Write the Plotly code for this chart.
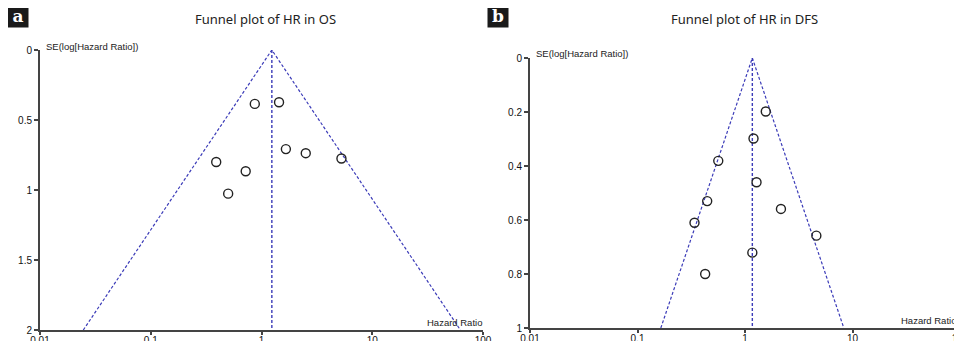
import numpy as np
import plotly.graph_objects as go

# ---------------- data ----------------
# Panel a: Funnel plot of HR in OS
os_hr = [0.87, 1.44, 0.39, 0.72, 0.50, 1.66, 2.51, 5.27]
os_se = [0.385, 0.373, 0.80, 0.866, 1.026, 0.708, 0.737, 0.775]
os_pooled_hr = 1.24
os_se_max = 2.0

# Panel b: Funnel plot of HR in DFS
dfs_hr = [1.56, 1.20, 0.564, 1.28, 0.445, 0.339, 1.17, 0.426, 2.16, 4.61]
dfs_se = [0.198, 0.298, 0.381, 0.46, 0.53, 0.61, 0.721, 0.80, 0.559, 0.658]
dfs_pooled_hr = 1.17
dfs_se_max = 1.0

x_tickvals = [0.01, 0.1, 1, 10, 100]
x_ticktext = ["0.01", "0.1", "1", "10", "100"]
os_y_ticks = [0, 0.5, 1, 1.5, 2]
os_y_text = ["0", "0.5", "1", "1.5", "2"]
dfs_y_ticks = [0, 0.2, 0.4, 0.6, 0.8, 1]
dfs_y_text = ["0", "0.2", "0.4", "0.6", "0.8", "1"]

titles = ["Funnel plot of HR in OS", "Funnel plot of HR in DFS"]
panel_labels = ["a", "b"]

# ---------------- layout geometry ----------------
W, H = 962, 341
OFF = 8  # page body margin
def px_x(p):
    return (p - OFF) / W
def px_y(p):
    return 1 - (p - OFF) / H

LINE_BLUE = "#3b3bb8"
AXIS_COL = "#444444"
TICK_FONT = dict(family="Liberation Sans, Arial", size=10, color="#111111")

fig = go.Figure()

panels = [
    dict(hr=os_hr, se=os_se, pooled=os_pooled_hr, semax=os_se_max,
         yt=os_y_ticks, ytt=os_y_text, xdom=[px_x(40), px_x(483)],
         ydom=[px_y(330), px_y(50)], xa="x", ya="y"),
    dict(hr=dfs_hr, se=dfs_se, pooled=dfs_pooled_hr, semax=dfs_se_max,
         yt=dfs_y_ticks, ytt=dfs_y_text, xdom=[px_x(530), px_x(960)],
         ydom=[px_y(328), px_y(58)], xa="x2", ya="y2"),
]

for i, p in enumerate(panels):
    z = 1.96 * p["semax"]
    # funnel lines
    fig.add_trace(go.Scatter(
        x=[p["pooled"] * np.exp(-z), p["pooled"], p["pooled"] * np.exp(z)],
        y=[p["semax"], 0, p["semax"]],
        mode="lines", line=dict(color=LINE_BLUE, width=1.2, dash="3px,2px"),
        xaxis=p["xa"], yaxis=p["ya"], hoverinfo="skip", showlegend=False))
    fig.add_trace(go.Scatter(
        x=[p["pooled"], p["pooled"]], y=[0, p["semax"]],
        mode="lines", line=dict(color=LINE_BLUE, width=1.4, dash="3px,2px"),
        xaxis=p["xa"], yaxis=p["ya"], hoverinfo="skip", showlegend=False))
    # studies
    fig.add_trace(go.Scatter(
        x=p["hr"], y=p["se"], mode="markers",
        marker=dict(symbol="circle-open", size=9, color="#222222",
                    line=dict(width=1.4, color="#222222")),
        xaxis=p["xa"], yaxis=p["ya"], showlegend=False))

    xkey = "xaxis" if i == 0 else "xaxis2"
    ykey = "yaxis" if i == 0 else "yaxis2"
    fig.layout[xkey] = dict(
        type="log", domain=p["xdom"], range=[-2, 2], anchor=p["ya"],
        tickvals=x_tickvals, ticktext=x_ticktext, ticks="outside",
        ticklen=3, tickwidth=1.5, tickcolor=AXIS_COL, showline=True,
        linecolor=AXIS_COL, linewidth=2, showgrid=False, zeroline=False,
        tickfont=TICK_FONT, automargin=False, ticklabelstandoff=-3)
    fig.layout[ykey] = dict(
        domain=p["ydom"], range=[p["semax"], 0], anchor=p["xa"],
        tickvals=p["yt"], ticktext=p["ytt"], ticks="outside",
        ticklen=4, tickwidth=1.5, tickcolor=AXIS_COL, showline=True,
        linecolor=AXIS_COL, linewidth=2, showgrid=False, zeroline=False,
        tickfont=TICK_FONT, automargin=False)

annotations = []
# titles
for xc, t in zip([265, 744], titles):
    annotations.append(dict(text=t, x=px_x(xc), y=px_y(19), xref="paper", yref="paper",
                            xanchor="center", yanchor="middle", showarrow=False,
                            font=dict(family="Noto Sans, Open Sans", size=13, color="#222222")))
# panel labels
for xl, lab in zip([7, 487], panel_labels):
    annotations.append(dict(text="<b>" + lab + "</b>", x=px_x(xl), y=px_y(4), xref="paper",
                            yref="paper", xanchor="left", yanchor="top", showarrow=False,
                            bgcolor="#1a1a1a", borderpad=1, width=18, height=20,
                            font=dict(family="DejaVu Serif, Liberation Serif", size=17, color="white")))
# axis titles
for xl, yl in zip([44, 534], [46, 53]):
    annotations.append(dict(text="SE(log[Hazard Ratio])", x=px_x(xl), y=px_y(yl), xref="paper",
                            yref="paper", xanchor="left", yanchor="middle", showarrow=False,
                            font=dict(family="Liberation Sans, Arial", size=9.5, color="#222222")))
for xr, yr in zip([484, 958], [322, 320]):
    annotations.append(dict(text="Hazard Ratio", x=px_x(xr), y=px_y(yr), xref="paper",
                            yref="paper", xanchor="right", yanchor="middle", showarrow=False,
                            font=dict(family="Liberation Sans, Arial", size=9.5, color="#222222")))

fig.update_layout(
    width=W, height=H, margin=dict(l=0, r=0, t=0, b=0),
    paper_bgcolor="white", plot_bgcolor="white",
    annotations=annotations, showlegend=False)

fig.write_html("out.html")
